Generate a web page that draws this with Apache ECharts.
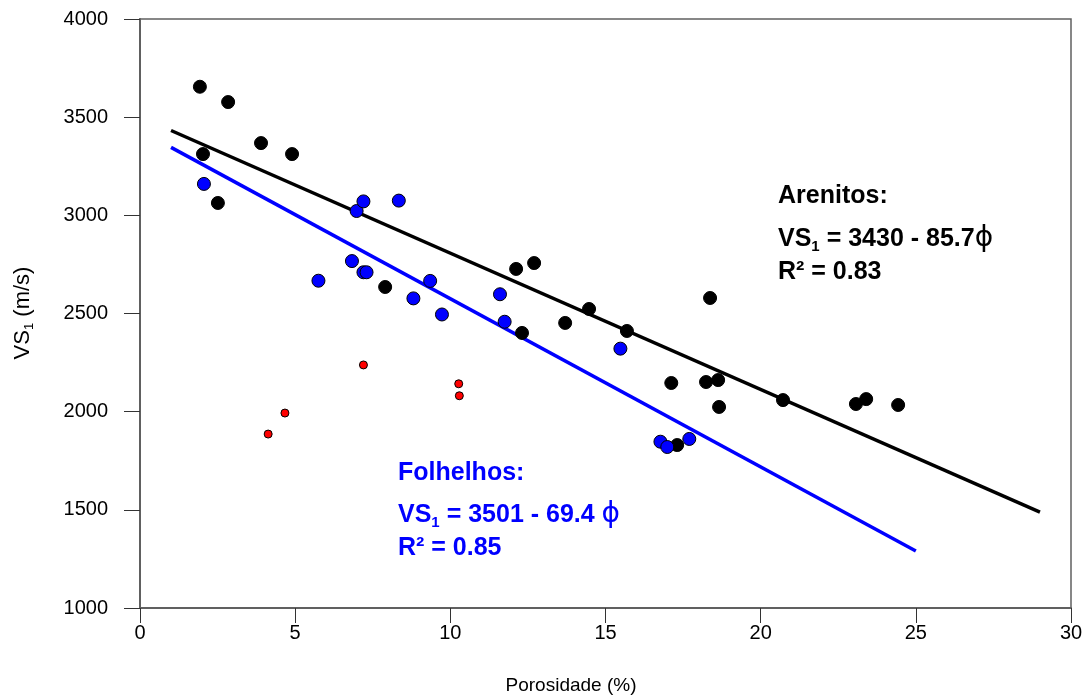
<!DOCTYPE html>
<html>
<head>
<meta charset="utf-8">
<script src="https://cdn.jsdelivr.net/npm/echarts@6/dist/echarts.min.js"></script>
<style>
html,body{margin:0;padding:0;background:#fff;}
#chart{width:1091px;height:699px;}
</style>
</head>
<body>
<div id="chart"></div>
<script>
// Arenitos (black)
const arenitos = [
  [1.93,3655],[2.84,3577],[2.03,3312],[3.90,3368],[4.90,3312],[2.51,3063],
  [7.90,2635],[12.12,2727],[12.70,2757],[12.31,2401],[13.70,2452],[14.47,2523],
  [15.69,2411],[18.37,2579],[17.12,2146],[18.24,2151],[18.63,2161],[18.66,2024],
  [20.72,2059],[23.07,2039],[23.40,2064],[24.43,2034],[17.31,1830]
];
// Folhelhos (blue)
const folhelhos = [
  [2.06,3160],[6.98,3022],[7.20,3071],[8.34,3075],[5.75,2667],[6.83,2767],
  [7.20,2710],[7.30,2710],[9.35,2666],[8.81,2577],[9.73,2495],[11.60,2598],
  [11.75,2458],[15.48,2321],[16.77,1847],[16.99,1820],[17.70,1861]
];
// red small points
const outros = [
  [4.13,1886],[4.67,1993],[7.20,2238],[10.27,2142],[10.29,2081]
];
// fitted lines (end points)
const blackLine = [[1,3432],[29,1488]];
const blueLine = [[1,3346],[25,1290]];
const xTicks = [0,5,10,15,20,25,30];
const yTicks = [1000,1500,2000,2500,3000,3500,4000];

const FONT = "'Liberation Sans', Arial, sans-serif";
const chart = echarts.init(document.getElementById('chart'), null, {renderer:'canvas'});

function eqRich(color){
  return {
    a:{fontFamily:FONT,fontSize:25,fontWeight:'bold',fill:color,color:color,lineHeight:30},
    s:{fontFamily:FONT,fontSize:15,fontWeight:'bold',fill:color,color:color,lineHeight:15,verticalAlign:'bottom'},
    p:{fontFamily:"'DejaVu Sans', sans-serif",fontSize:28,fontWeight:'normal',fill:color,color:color,lineHeight:30}
  };
}

const option = {
  animation:false,
  backgroundColor:'#fff',
  grid:{left:140,right:20,top:19,bottom:91,show:true,borderColor:'#606060',borderWidth:1.5,backgroundColor:'transparent'},
  xAxis:{
    type:'value',min:xTicks[0],max:xTicks[xTicks.length-1],interval:5,
    axisLine:{show:true,onZero:false,lineStyle:{color:'#606060',width:2}},
    axisTick:{show:true,inside:false,length:15,lineStyle:{color:'#333',width:1}},
    axisLabel:{fontFamily:FONT,fontSize:20,color:'#000',margin:15,formatter:function(v){return String(v);}},
    splitLine:{show:false}
  },
  yAxis:{
    type:'value',min:yTicks[0],max:yTicks[yTicks.length-1],interval:500,
    axisLine:{show:true,onZero:false,lineStyle:{color:'#606060',width:2}},
    axisTick:{show:true,inside:false,length:16,lineStyle:{color:'#333',width:1}},
    axisLabel:{fontFamily:FONT,fontSize:20,color:'#000',margin:32,formatter:function(v){return String(v);}},
    splitLine:{show:false}
  },
  series:[
    {type:'line',data:blackLine,symbol:'none',lineStyle:{color:'#000',width:3.5},z:2},
    {type:'line',data:blueLine,symbol:'none',lineStyle:{color:'#0000ff',width:3.5},z:2},
    {type:'scatter',data:arenitos,symbol:'circle',symbolSize:13,itemStyle:{color:'#000',borderColor:'#000',borderWidth:1,opacity:1},z:3},
    {type:'scatter',data:folhelhos,symbol:'circle',symbolSize:13,itemStyle:{color:'#0000ff',borderColor:'#000',borderWidth:1,opacity:1},z:4},
    {type:'scatter',data:outros,symbol:'circle',symbolSize:8,itemStyle:{color:'#ff0000',borderColor:'#000',borderWidth:1,opacity:1},z:5}
  ],
  graphic:[
    {type:'text',x:23,y:313,rotation:Math.PI/2,silent:true,
      style:{text:'{t|VS}{s|1}{t| (m/s)}',align:'center',verticalAlign:'middle',
        rich:{t:{fontFamily:FONT,fontSize:22,fill:'#000',lineHeight:26},s:{fontFamily:FONT,fontSize:13,fill:'#000',lineHeight:13,verticalAlign:'bottom'}}}},
    {type:'text',x:571,y:686,silent:true,
      style:{text:'Porosidade (%)',font:"19px "+FONT,fill:'#000',align:'center',verticalAlign:'middle'}},
    {type:'text',x:778,y:196,silent:true,
      style:{text:'Arenitos:',font:"bold 25px "+FONT,fill:'#000',align:'left',verticalAlign:'middle'}},
    {type:'text',x:778,y:239,silent:true,
      style:{text:'{a|VS}{s|1}{a| = 3430 - 85.7}{p|ϕ}',align:'left',verticalAlign:'middle',rich:eqRich('#000')}},
    {type:'text',x:778,y:272,silent:true,
      style:{text:'R² = 0.83',font:"bold 25px "+FONT,fill:'#000',align:'left',verticalAlign:'middle'}},
    {type:'text',x:398,y:473,silent:true,
      style:{text:'Folhelhos:',font:"bold 25px "+FONT,fill:'#0000ff',align:'left',verticalAlign:'middle'}},
    {type:'text',x:398,y:515,silent:true,
      style:{text:'{a|VS}{s|1}{a| = 3501 - 69.4 }{p|ϕ}',align:'left',verticalAlign:'middle',rich:eqRich('#0000ff')}},
    {type:'text',x:398,y:548,silent:true,
      style:{text:'R² = 0.85',font:"bold 25px "+FONT,fill:'#0000ff',align:'left',verticalAlign:'middle'}}
  ]
};
chart.setOption(option);
</script>
</body>
</html>
